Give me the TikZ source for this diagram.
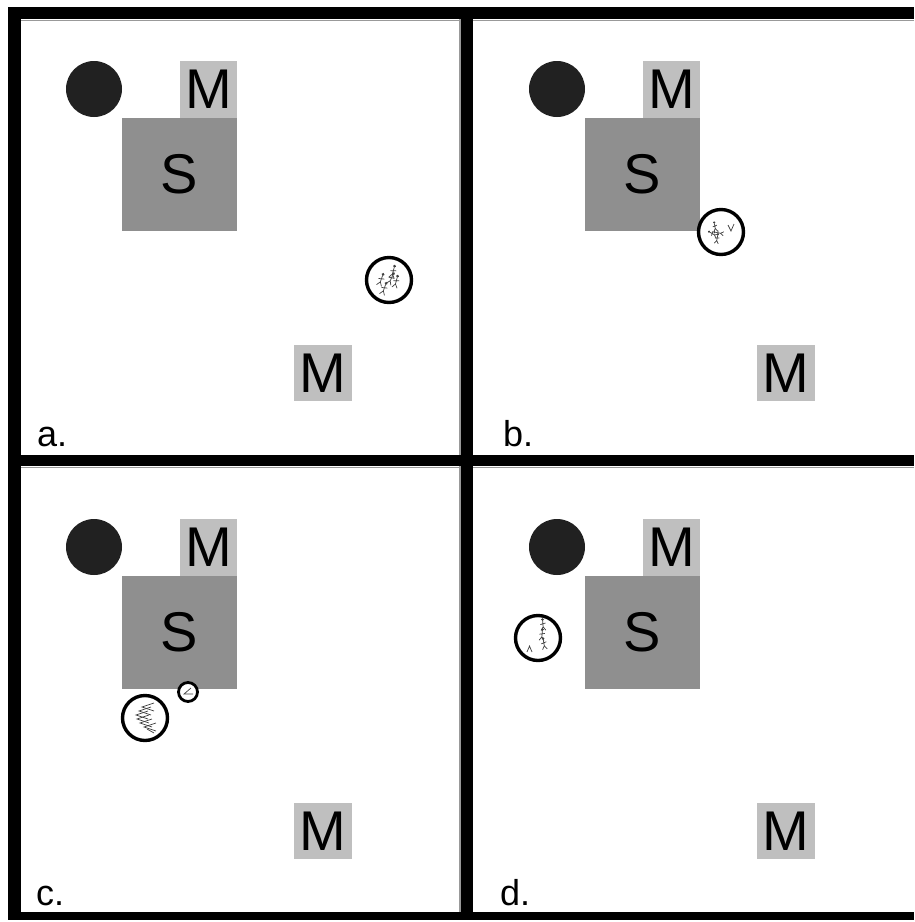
\documentclass[tikz,border=0pt]{standalone}
\usepackage{fontspec}
\setmainfont{Liberation Sans}
\begin{document}
\begin{tikzpicture}[x=1pt,y=-1pt,
  band/.style={fill=black},
  edge/.style={draw=black!40,line width=1.2pt},
  dot/.style={circle,fill=black!87,inner sep=0pt,minimum size=56pt},
  mbox/.style={rectangle,fill=black!25,inner sep=0pt,minimum width=57pt,minimum height=57pt,font=\fontsize{56}{60}\selectfont},
  sbox/.style={rectangle,fill=black!44,inner sep=0pt,minimum width=115pt,minimum height=113pt,font=\fontsize{56}{60}\selectfont},
  group/.style={circle,draw=black,line width=3.4pt,fill=white,inner sep=0pt,minimum size=45pt},
  smallgroup/.style={circle,draw=black,line width=2.8pt,fill=white,inner sep=0pt,minimum size=19pt},
  lab/.style={anchor=base west,inner sep=0pt,font=\fontsize{36}{40}\selectfont},
  fig/.style={draw=black!75,line width=0.7pt},
  walker/.pic={\draw[fig] (0,-3.5) -- (0,1.5) -- (-2,4.5) (0,1.5) -- (2,4.5) (-2.2,-0.5) -- (2.2,-1.5);
               \fill[black!75] (0,-4.6) circle (1.2);},
  panel/.pic={
    \node[dot] (-ball) at (94,89) {};
    \node[sbox] (-s) at (179.5,174.5) {S};
    \node[mbox] (-mt) at (208.5,89.5) {M};
    \node[mbox,minimum width=58pt,minimum height=56pt] (-mb) at (323,373) {M};
  }]
\useasboundingbox (0,0) rectangle (914,922);
\fill[white] (0,0) rectangle (914,922);

% thin grey panel edges
\draw[edge] (21,20.5) -- (914,20.5);
\draw[edge] (21,467.5) -- (914,467.5);
\draw[edge] (460,19) -- (460,912);

% panel contents
\pic (a) at (0,0) {panel};
\pic (b) at (463,0) {panel};
\pic (c) at (0,458) {panel};
\pic (d) at (463,458) {panel};

% groups of people
\node[group] (ga) at (389,280) {};
\pic[rotate=-20,scale=1.3] at (381,280) {walker};
\pic[rotate=-20,scale=1.3] at (384,289) {walker};
\pic[rotate=-15,scale=1.3] at (393,272) {walker};
\pic[rotate=-15,scale=1.3] at (396,282) {walker};
\pic[rotate=-25,scale=1.3] at (391,279) {walker};

\node[group] (gb) at (721,232) {};
\pic[rotate=10] at (715,227) {walker};
\pic[rotate=80] at (719,233) {walker};
\pic[rotate=60] at (713,234) {walker};
\pic[rotate=-10] at (717,239) {walker};
\draw[fig] (728,225) -- (731,231) -- (734,224);

\node[group] (gc) at (145,718) {};
\foreach \yy/\xx in {707/142,711/139,715/136,719/137,723/140,727/144}{
  \draw[fig] (\xx+12,\yy-4) -- (\xx,\yy) -- (\xx+12,\yy+4);
}
\draw[fig] (147,729) -- (154,733);
\node[smallgroup] (gs) at (188,692) {};
\draw[fig] (191,688) -- (184,694) -- (193,694);

\node[group] (gd) at (538,638) {};
\pic[rotate=5,scale=1.2] at (543,625) {walker};
\pic[rotate=-5,scale=1.2] at (542,635) {walker};
\pic[rotate=10,scale=1.2] at (544,644) {walker};
\draw[fig] (527,652) -- (529.5,646) -- (532,652);

% frame bands
\fill[band] (8,7) rectangle (914,19);
\fill[band] (8,7) rectangle (21,920);
\fill[band] (8,455) rectangle (914,466);
\fill[band] (461,7) rectangle (473,920);
\fill[band] (8,912) rectangle (914,920);

% panel labels
\node[lab] (la) at (37,446) {a.};
\node[lab] (lb) at (503,446) {b.};
\node[lab] (lc) at (36,905) {c.};
\node[lab] (ld) at (500,905) {d.};
\end{tikzpicture}
\end{document}
